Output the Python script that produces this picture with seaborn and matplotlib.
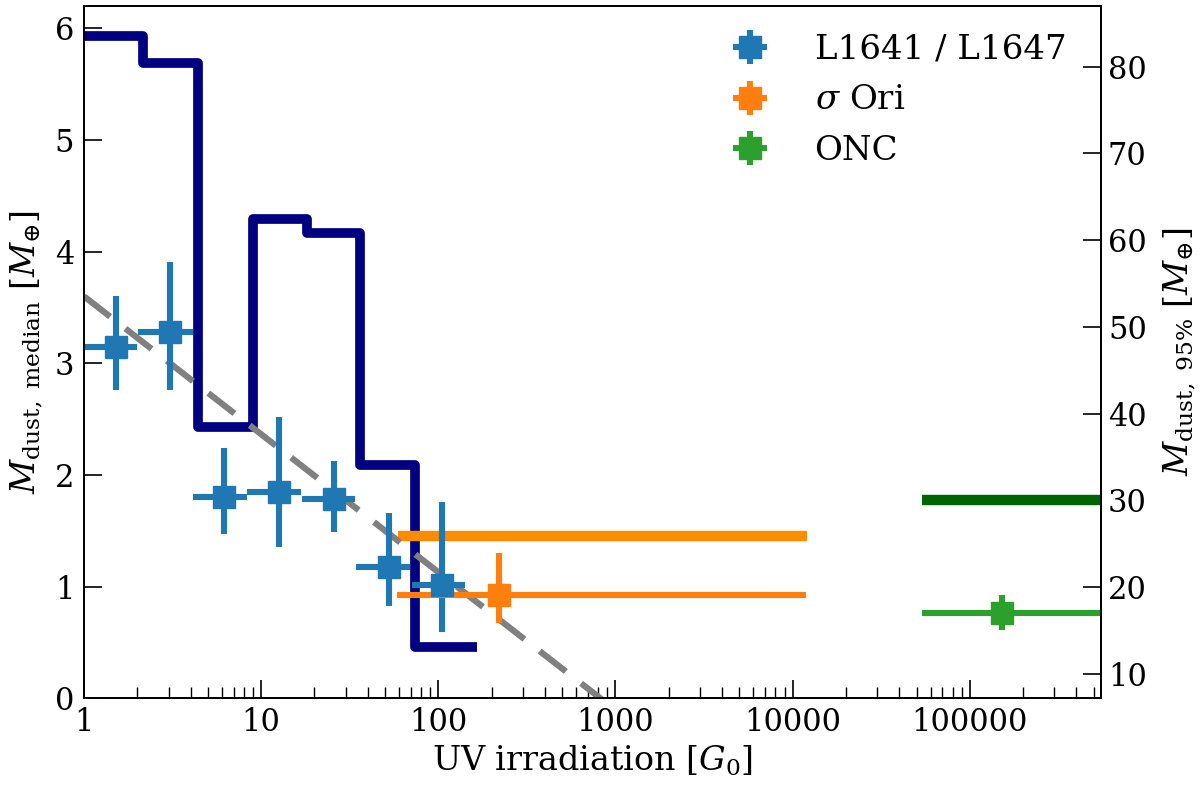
import matplotlib
matplotlib.use('Agg')
import matplotlib.pyplot as plt
import seaborn as sns
import numpy as np

# ---------------- data ----------------
# L1641 / L1647 binned medians (left axis)
l16_x = [1.52, 3.06, 6.20, 12.56, 25.85, 52.4, 105.2]
l16_xlo = [1.0, 2.03, 4.14, 8.31, 16.9, 34.4, 70.6]
l16_xhi = [1.98, 4.11, 8.31, 16.85, 33.97, 69.6, 142.0]
l16_y = [3.149, 3.283, 1.806, 1.851, 1.782, 1.174, 1.015]
l16_ylo = [2.76, 2.76, 1.472, 1.358, 1.492, 0.827, 0.597]
l16_yhi = [3.60, 3.91, 2.239, 2.517, 2.128, 1.663, 1.761]

# sigma Ori
sori_x = [218.8]
sori_xlo = [58.5]
sori_xhi = [11940.0]
sori_y = [0.926]
sori_ylo = [0.672]
sori_yhi = [1.305]

# ONC
onc_x = [152600.0]
onc_xlo = [53700.0]
onc_xhi = [1.0e6]
onc_y = [0.762]
onc_ylo = [0.612]
onc_yhi = [0.926]

# 95% dust masses (right axis)
hist_edges = [0.9, 2.16, 4.42, 8.96, 18.1, 36.2, 74.3, 165.0]
hist_p95 = [83.5, 80.4, 38.5, 62.4, 60.8, 34.1, 13.15]
sori_p95_x = [59.3, 12070.0]
sori_p95_y = [25.9, 25.9]
onc_p95_x = [53700.0, 1.0e6]
onc_p95_y = [30.0, 30.0]

# linear fit (left axis)
fit_x = [1.0, 1000.0]
fit_y = [3.60, -0.105]

x_ticks = [1, 10, 100, 1000, 10000, 100000]
x_ticklabels = ['1', '10', '100', '1000', '10000', '100000']
yl_ticks = [0, 1, 2, 3, 4, 5, 6]
yr_ticks = [10, 20, 30, 40, 50, 60, 70, 80]

labels = ['L1641 / L1647', r'$\sigma$ Ori', 'ONC']

# ---------------- style ----------------
sns.set_style('ticks')
plt.rcParams['font.family'] = ['DejaVu Serif']
plt.rcParams['mathtext.fontset'] = 'dejavuserif'
for k in ['text.color', 'axes.labelcolor', 'xtick.color', 'ytick.color', 'axes.edgecolor']:
    plt.rcParams[k] = 'black'

fig = plt.figure(figsize=(12, 7.86), dpi=100)
ax = fig.add_axes([0.07, 0.1115, 0.8475, 0.8809])
ax.set_xscale('log')
ax2 = ax.twinx()

# right-axis (95%) lines
ax2.stairs(hist_p95, hist_edges, baseline=None, color='navy', lw=7,
           joinstyle='round', capstyle='butt')
sns.lineplot(x=sori_p95_x, y=sori_p95_y, ax=ax2, color='darkorange', lw=7.5,
             solid_capstyle='butt')
sns.lineplot(x=onc_p95_x, y=onc_p95_y, ax=ax2, color='darkgreen', lw=7.5,
             solid_capstyle='butt')

# left-axis content
ax.plot(fit_x, fit_y, color='gray', lw=4.5, dashes=(5.3, 3.1), dash_capstyle='butt')

def err(v, lo, hi):
    v = np.asarray(v); lo = np.asarray(lo); hi = np.asarray(hi)
    return np.vstack([v - lo, hi - v])

e1 = ax.errorbar(l16_x, l16_y, xerr=err(l16_x, l16_xlo, l16_xhi),
                 yerr=err(l16_y, l16_ylo, l16_yhi), fmt='s', color='tab:blue',
                 ms=16, elinewidth=4.4, capsize=0, label=labels[0])
e2 = ax.errorbar(sori_x, sori_y, xerr=err(sori_x, sori_xlo, sori_xhi),
                 yerr=err(sori_y, sori_ylo, sori_yhi), fmt='s', color='tab:orange',
                 ms=16, elinewidth=4.4, capsize=0, label=labels[1])
e3 = ax.errorbar(onc_x, onc_y, xerr=err(onc_x, onc_xlo, onc_xhi),
                 yerr=err(onc_y, onc_ylo, onc_yhi), fmt='s', color='tab:green',
                 ms=16, elinewidth=4.4, capsize=0, label=labels[2])

ax.set_zorder(ax2.get_zorder() + 1)
ax.patch.set_visible(False)

# axes limits / ticks
ax.set_xlim(1, 5.5e5)
ax.set_ylim(0, 6.2)
ax2.set_ylim(7.19, 87.0)
ax.set_xticks(x_ticks)
ax.set_xticklabels(x_ticklabels)
ax.set_yticks(yl_ticks)
ax2.set_yticks(yr_ticks)

ax.tick_params(which='both', direction='in', top=False, right=False, labelsize=22)
ax.tick_params(which='major', length=13, width=1.2)
ax.tick_params(which='minor', length=8, width=1.0)
ax.tick_params(axis='y', which='minor', left=False)
ax.tick_params(axis='y', which='major', pad=7)
ax.tick_params(axis='x', which='major', pad=6)
ax2.tick_params(which='major', direction='in', length=13, width=1.2, labelsize=22, pad=5)

for sp in list(ax.spines.values()) + list(ax2.spines.values()):
    sp.set_linewidth(1.3)
    sp.set_color('black')

ax.set_xlabel(r'UV irradiation [$G_0$]', fontsize=24, labelpad=4)
ax.set_ylabel(r'$M_{\rm dust,\ median}$ [$M_{\oplus}$]', fontsize=24, labelpad=7)
ax2.set_ylabel(r'$M_{\rm dust,\ 95\%}$ [$M_{\oplus}$]', fontsize=24, labelpad=11)

ax.legend([e1, e2, e3], labels, loc='upper right', frameon=False, fontsize=24.5,
          handletextpad=0.9, borderaxespad=0.0, labelspacing=0.55,
          bbox_to_anchor=(0.9792, 0.9795))

fig.savefig('out.png', dpi=100)
